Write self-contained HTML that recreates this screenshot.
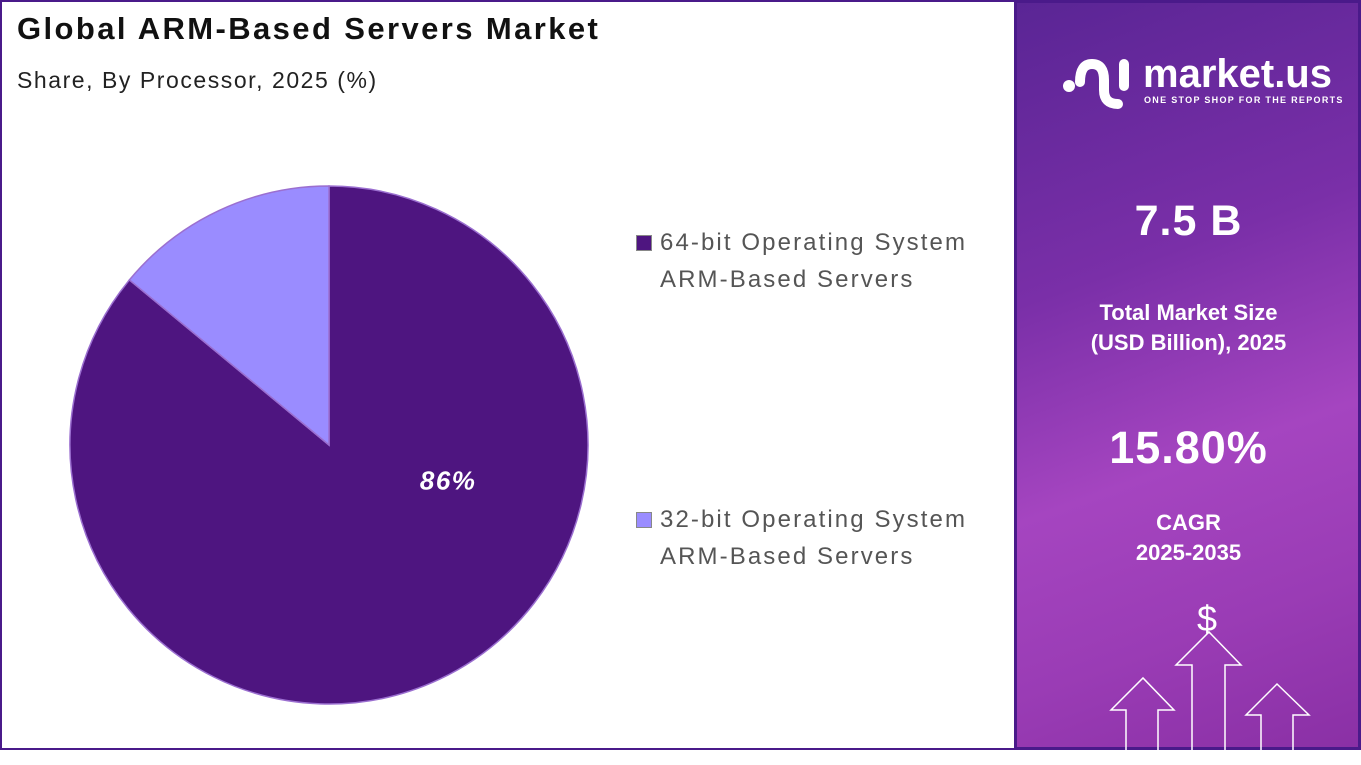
<!DOCTYPE html>
<html><head><meta charset="utf-8"><style>
html,body{margin:0;width:1361px;height:765px;overflow:hidden;background:#fff;font-family:"Liberation Sans",sans-serif}
#wrap{position:absolute;left:0;top:0;width:1361px;height:765px;overflow:hidden}
.t{position:absolute;white-space:nowrap}
</style></head><body>
<div id="wrap">
<div style="position:absolute;left:0;top:0;width:1014px;height:750px;border:2px solid #4a1a8a;border-right:none;box-sizing:border-box;background:#fff"></div>
<div class="t" style="left:17px;top:11px;font-size:31px;font-weight:bold;color:#111;letter-spacing:2.4px">Global ARM-Based Servers Market</div>
<div class="t" style="left:17px;top:67px;font-size:23px;color:#222;letter-spacing:1.55px">Share, By Processor, 2025 (%)</div>
<svg id="pie" width="1014" height="750" style="position:absolute;left:0;top:0"></svg>
<div style="position:absolute;left:1014px;top:0;width:347px;height:750px;border:3px solid #4a1a8a;box-sizing:border-box;background:linear-gradient(160deg,#5a2595 0%,#7a2fa8 35%,#a545c0 60%,#9a3cb5 80%,#8a30a5 100%)"></div>
<div class="t" style="left:1143px;top:52px;font-size:40px;font-weight:bold;color:#fff">market.us</div>
<div class="t" style="left:1144px;top:95px;font-size:9px;font-weight:bold;letter-spacing:1.3px;color:#fff">ONE STOP SHOP FOR THE REPORTS</div>
<svg width="75" height="60" style="position:absolute;left:1060px;top:52px">
<g fill="none" stroke="#fff" stroke-width="10" stroke-linecap="round"><path d="M20 30 Q20 12 32 12 Q44 12 44 28 L44 38 Q44 52 58 52"/><path d="M64 12 L64 34"/></g><circle cx="9" cy="34" r="6" fill="#fff"/></svg>
<div class="t" style="left:1016px;width:345px;text-align:center;top:197px;font-size:43px;font-weight:bold;color:#fff;letter-spacing:1px">7.5 B</div>
<div class="t" style="left:1016px;width:345px;text-align:center;top:298px;font-size:22px;font-weight:bold;color:#fff;line-height:30px">Total Market Size<br>(USD Billion), 2025</div>
<div class="t" style="left:1016px;width:345px;text-align:center;top:422px;font-size:45px;font-weight:bold;color:#fff;letter-spacing:1px">15.80%</div>
<div class="t" style="left:1016px;width:345px;text-align:center;top:508px;font-size:22px;font-weight:bold;color:#fff;line-height:30px">CAGR<br>2025-2035</div>
<div class="t" style="left:1197px;top:598px;font-size:36px;color:#fff">$</div>
<svg width="1361" height="750" style="position:absolute;left:0;top:0">
<g fill="none" stroke="#fff" stroke-width="1.5">
<path d="M1126 750 L1126 710 L1111 710 L1143 678 L1174 710 L1158 710 L1158 750"/>
<path d="M1192 750 L1192 665 L1176 665 L1209 632 L1241 665 L1225 665 L1225 750"/>
<path d="M1261 750 L1261 715 L1246 715 L1277 684 L1309 715 L1293 715 L1293 750"/>
</g></svg>
<div>
<div style="position:absolute;left:636px;top:235px;width:16px;height:16px;background:#4e1580;border:1px solid #888;box-sizing:border-box"></div>
<div class="t" style="left:660px;top:224px;font-size:24px;color:#555;line-height:37px;letter-spacing:2.1px">64-bit Operating System<br>ARM-Based Servers</div>
<div style="position:absolute;left:636px;top:512px;width:16px;height:16px;background:#9a8cff;border:1px solid #888;box-sizing:border-box"></div>
<div class="t" style="left:660px;top:501px;font-size:24px;color:#555;line-height:37px;letter-spacing:2.1px">32-bit Operating System<br>ARM-Based Servers</div>
</div>
</div>
<script>
const categories=["64-bit Operating System ARM-Based Servers","32-bit Operating System ARM-Based Servers"];
const values=[86,14];
const colors=["#4e1580","#9a8cff"];
const labels=["86%",""];
const svg=document.getElementById('pie');
const cx=329,cy=445,r=259;
const total=values.reduce((a,b)=>a+b,0);
let a0=0;
function pt(a,rr){return [cx+rr*Math.sin(a),cy-rr*Math.cos(a)];}
values.forEach((v,i)=>{
  const a1=a0+v/total*2*Math.PI;
  const p0=pt(a0,r),p1=pt(a1,r);
  const large=(a1-a0)>Math.PI?1:0;
  const path=document.createElementNS('http://www.w3.org/2000/svg','path');
  path.setAttribute('d',`M${cx},${cy} L${p0[0]},${p0[1]} A${r},${r} 0 ${large} 1 ${p1[0]},${p1[1]} Z`);
  path.setAttribute('fill',colors[i]);
  path.setAttribute('stroke','#9b6fd0');
  path.setAttribute('stroke-width','1.5');
  
  
  svg.appendChild(path);
  if(labels[i]){
    const t=document.createElementNS('http://www.w3.org/2000/svg','text');
    t.setAttribute('x',cx+r*0.46);t.setAttribute('y',cy+r*0.14+8);
    t.setAttribute('text-anchor','middle');
    t.setAttribute('font-size','26');t.setAttribute('font-weight','bold');t.setAttribute('font-style','italic');
    t.setAttribute('letter-spacing','1.5');
    t.setAttribute('fill','#fff');t.setAttribute('font-family','Liberation Sans, sans-serif');
    
    
    t.textContent=labels[i];
    svg.appendChild(t);
  }
  a0=a1;
});
</script>
</body></html>
